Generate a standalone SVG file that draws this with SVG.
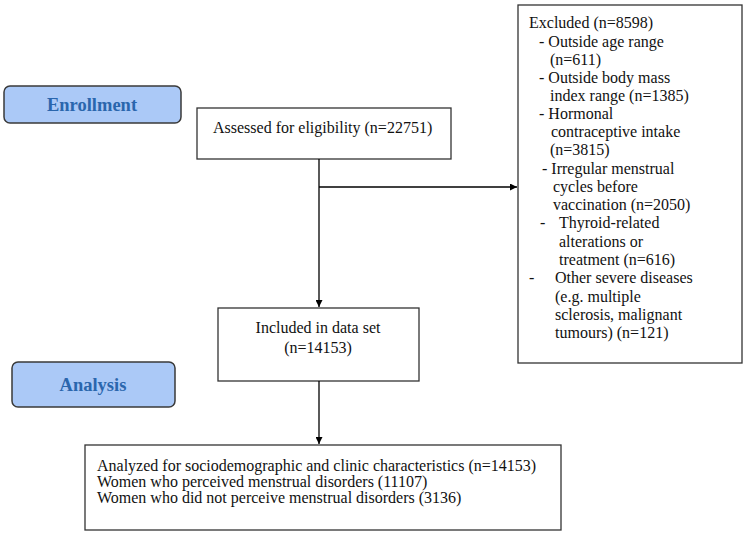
<svg xmlns="http://www.w3.org/2000/svg" width="746" height="535" viewBox="0 0 746 535">
<defs>
<marker id="arr" viewBox="0 0 10 10" refX="10" refY="5" markerWidth="7" markerHeight="7" markerUnits="userSpaceOnUse" orient="auto">
<path d="M0,0 L10,5 L0,10 z" fill="#000"/>
</marker>
<style>
.box{fill:#fff;stroke:#333;stroke-width:1.3}
.phase{fill:#abc9f7;stroke:#3a3a3a;stroke-width:1.5}
.ph{font-weight:bold;font-size:18.5px;fill:#2a66ad;text-anchor:middle}
.t{font-size:16px;fill:#111}
.s{font-size:16px;fill:#111}
.c{text-anchor:middle}
.ln{stroke:#000;stroke-width:1.3;fill:none}
</style>
</defs>
<rect width="746" height="535" fill="#fff"/>
<g font-family="'Liberation Serif', 'Times New Roman', 'DejaVu Serif', serif">
<g id="enrollment">
<rect class="phase" x="4" y="86" width="177" height="37" rx="6"/>
<text class="ph" x="92" y="111">Enrollment</text>
</g>
<g id="analysis">
<rect class="phase" x="12" y="362" width="163" height="45" rx="6"/>
<text class="ph" x="93" y="391">Analysis</text>
</g>
<g id="assessed">
<rect class="box" x="197" y="108" width="254" height="51"/>
<text class="t" x="213" y="133">Assessed for eligibility (n=22751)</text>
</g>
<g id="excluded">
<rect class="box" x="518" y="5" width="224" height="358"/>
<text class="t">
<tspan x="529" y="28">Excluded (n=8598)</tspan>
<tspan x="539" y="47">- Outside age range</tspan>
<tspan x="550" y="65">(n=611)</tspan>
<tspan x="539" y="83">- Outside body mass</tspan>
<tspan x="550" y="101">index range (n=1385)</tspan>
<tspan x="539" y="119">- Hormonal</tspan>
<tspan x="551" y="137">contraceptive intake</tspan>
<tspan x="550" y="155">(n=3815)</tspan>
<tspan x="542" y="174">- Irregular menstrual</tspan>
<tspan x="553" y="192">cycles before</tspan>
<tspan x="553" y="210">vaccination (n=2050)</tspan>
<tspan x="540" y="228">-</tspan>
<tspan x="559" y="228">Thyroid-related</tspan>
<tspan x="559" y="247">alterations or</tspan>
<tspan x="559" y="265">treatment (n=616)</tspan>
<tspan x="529" y="283">-</tspan>
<tspan x="555" y="283">Other severe diseases</tspan>
<tspan x="555" y="302">(e.g. multiple</tspan>
<tspan x="555" y="320">sclerosis, malignant</tspan>
<tspan x="555" y="338">tumours) (n=121)</tspan>
</text>
</g>
<g id="included">
<rect class="box" x="218" y="308" width="201" height="73"/>
<text class="t c" x="318" y="333">Included in data set</text>
<text class="t c" x="318" y="353">(n=14153)</text>
</g>
<g id="analyzed">
<rect class="box" x="85" y="445" width="476" height="85"/>
<text class="s">
<tspan x="97" y="471">Analyzed for sociodemographic and clinic characteristics (n=14153)</tspan>
<tspan x="97" y="487">Women who perceived menstrual disorders (11107)</tspan>
<tspan x="97" y="503">Women who did not perceive menstrual disorders (3136)</tspan>
</text>
</g>
</g>
<g id="connectors">
<path class="ln" d="M319,159 V307" marker-end="url(#arr)"/>
<path class="ln" d="M319,187 H517" marker-end="url(#arr)"/>
<path class="ln" d="M319,381 V444" marker-end="url(#arr)"/>
</g>
</svg>
